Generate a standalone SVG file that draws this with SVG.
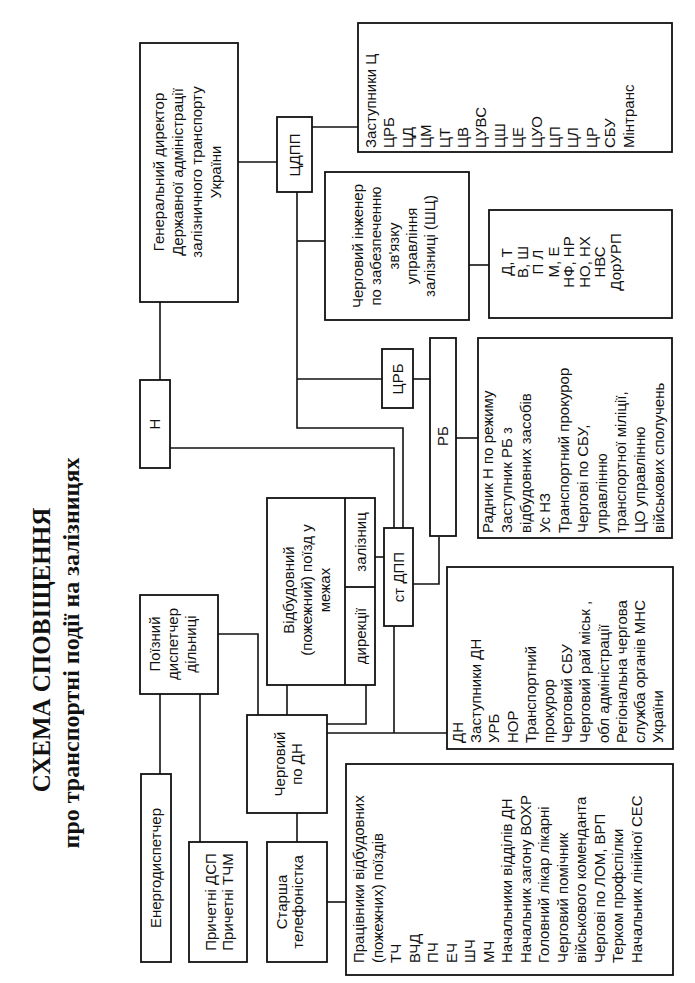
<svg xmlns="http://www.w3.org/2000/svg" width="695" height="983" viewBox="0 0 695 983">
<style>
.box{fill:none;stroke:#111;stroke-width:1.8}
.ln{fill:none;stroke:#111;stroke-width:1.6}
.t{font-family:"Liberation Sans",Arial,sans-serif;font-size:15px;fill:#111}
.m{text-anchor:middle}
.s{text-anchor:start}
.ttl{font-family:"Liberation Serif","Times New Roman",serif;font-weight:bold;fill:#111;text-anchor:middle}
</style>
<rect width="695" height="983" fill="#fff"/>
<g id="title" transform="translate(50,650) rotate(-90)">
<text class="ttl"><tspan x="0" y="0" font-size="25">СХЕМА СПОВІЩЕННЯ</tspan><tspan x="-3" y="29" font-size="24">про транспортні події на залізницях</tspan></text>
</g>
<g id="connectors">
<polyline class="ln" points="160,302 160,380"/>
<polyline class="ln" points="238,162 277,162"/>
<polyline class="ln" points="312,127 358,127"/>
<polyline class="ln" points="297,192 297,428 403,428 403,528"/>
<polyline class="ln" points="297,241 325,241"/>
<polyline class="ln" points="297,379 382,379"/>
<polyline class="ln" points="413,379 430,379"/>
<polyline class="ln" points="469,265 489,265"/>
<polyline class="ln" points="456,438 478,438"/>
<polyline class="ln" points="170,448 394,448 394,528"/>
<polyline class="ln" points="413,584 439,584 439,537"/>
<polyline class="ln" points="375,557 384,557"/>
<polyline class="ln" points="394,626 394,733"/>
<polyline class="ln" points="327,733 447,733"/>
<polyline class="ln" points="287,685 287,715"/>
<polyline class="ln" points="366,685 366,724 327,724"/>
<polyline class="ln" points="218,634 258,634 258,715"/>
<polyline class="ln" points="160,694 160,774"/>
<polyline class="ln" points="200,694 200,842"/>
<polyline class="ln" points="297,813 297,842"/>
<polyline class="ln" points="327,902 346,902"/>
</g>
<g id="gendir">
<rect class="box" x="140" y="43" width="98" height="259"/>
<g transform="translate(164,172) rotate(-90)"><text class="t m"><tspan x="0" y="0">Генеральний директор</tspan><tspan x="0" y="19">Державної адміністрації</tspan><tspan x="0" y="38">залізничного транспорту</tspan><tspan x="0" y="57">України</tspan></text></g>
</g>
<g id="n">
<rect class="box" x="140" y="380" width="30" height="88"/>
<g transform="translate(160,424) rotate(-90)"><text class="t m" x="0" y="0">Н</text></g>
</g>
<g id="cdpp">
<rect class="box" x="277" y="117" width="35" height="75"/>
<g transform="translate(300,155) rotate(-90)"><text class="t m" x="0" y="0">ЦДПП</text></g>
</g>
<g id="zastc">
<rect class="box" x="358" y="23" width="314" height="129"/>
<g transform="translate(376,148) rotate(-90)"><text class="t s"><tspan x="0" y="0">Заступники Ц</tspan><tspan x="0" y="18.4">ЦРБ</tspan><tspan x="0" y="36.8">ЦД</tspan><tspan x="0" y="55.2">ЦМ</tspan><tspan x="0" y="73.6">ЦТ</tspan><tspan x="0" y="92">ЦВ</tspan><tspan x="0" y="110.4">ЦУВС</tspan><tspan x="0" y="128.8">ЦШ</tspan><tspan x="0" y="147.2">ЦЕ</tspan><tspan x="0" y="165.6">ЦУО</tspan><tspan x="0" y="184">ЦП</tspan><tspan x="0" y="202.4">ЦЛ</tspan><tspan x="0" y="220.8">ЦР</tspan><tspan x="0" y="239.2">СБУ</tspan><tspan x="0" y="257.6">Мінтранс</tspan></text></g>
</g>
<g id="shc">
<rect class="box" x="325" y="172" width="144" height="148"/>
<g transform="translate(363,246) rotate(-90)"><text class="t m"><tspan x="0" y="0">Черговий інженер</tspan><tspan x="0" y="18">по забезпеченню</tspan><tspan x="0" y="36">зв'язку</tspan><tspan x="0" y="54">управління</tspan><tspan x="0" y="72">залізниці (ШЦ)</tspan></text></g>
</g>
<g id="dt">
<rect class="box" x="489" y="210" width="183" height="108"/>
<g transform="translate(512,262) rotate(-90)"><text class="t m"><tspan x="0" y="0">Д, Т</tspan><tspan x="0" y="15.5">В, Ш</tspan><tspan x="0" y="31">П Л</tspan><tspan x="0" y="46.5">М, Е</tspan><tspan x="0" y="62">НФ, НР</tspan><tspan x="0" y="77.5">НО, НХ</tspan><tspan x="0" y="93">НВС</tspan><tspan x="0" y="108.5">ДорУРП</tspan></text></g>
</g>
<g id="crb">
<rect class="box" x="382" y="349" width="31" height="59"/>
<g transform="translate(403,379) rotate(-90)"><text class="t m" x="0" y="0">ЦРБ</text></g>
</g>
<g id="rb">
<rect class="box" x="430" y="338" width="26" height="198"/>
<g transform="translate(448,436) rotate(-90)"><text class="t m" x="0" y="0">РБ</text></g>
</g>
<g id="radnyk">
<rect class="box" x="478" y="338" width="194" height="200"/>
<g transform="translate(493,533) rotate(-90)"><text class="t s"><tspan x="0" y="0">Радник Н по режиму</tspan><tspan x="0" y="19">Заступник РБ з</tspan><tspan x="0" y="38">відбудовних засобів</tspan><tspan x="0" y="57">Ус НЗ</tspan><tspan x="0" y="76">Транспортний прокурор</tspan><tspan x="0" y="95">Чергові по СБУ,</tspan><tspan x="0" y="114">управлінню</tspan><tspan x="0" y="133">транспортної міліції,</tspan><tspan x="0" y="152">ЦО управлінню</tspan><tspan x="0" y="171">військових сполучень</tspan></text></g>
</g>
<g id="stdpp">
<rect class="box" x="384" y="528" width="29" height="98"/>
<g transform="translate(404,577) rotate(-90)"><text class="t m" x="0" y="0">ст ДПП</text></g>
</g>
<g id="vidbud">
<rect class="box" x="267" y="498" width="108" height="187"/>
<line class="box" x1="345" y1="498" x2="345" y2="685"/>
<line class="box" x1="345" y1="587" x2="375" y2="587"/>
<g transform="translate(294,590) rotate(-90)"><text class="t m"><tspan x="0" y="0">Відбудовний</tspan><tspan x="0" y="18">(пожежний) поїзд у</tspan><tspan x="0" y="36">межах</tspan></text></g>
<g transform="translate(366,542) rotate(-90)"><text class="t m" x="0" y="0">залізниц</text></g>
<g transform="translate(366,636) rotate(-90)"><text class="t m" x="0" y="0">дирекції</text></g>
</g>
<g id="poizd">
<rect class="box" x="140" y="595" width="78" height="99"/>
<g transform="translate(160,644) rotate(-90)"><text class="t m"><tspan x="0" y="0">Поїзний</tspan><tspan x="0" y="18">диспетчер</tspan><tspan x="0" y="36">дільниці</tspan></text></g>
</g>
<g id="energo">
<rect class="box" x="141" y="774" width="30" height="188"/>
<g transform="translate(161,868) rotate(-90)"><text class="t m" x="0" y="0">Енергодиспетчер</text></g>
</g>
<g id="prychetni">
<rect class="box" x="189" y="842" width="58" height="120"/>
<g transform="translate(216,902) rotate(-90)"><text class="t m"><tspan x="0" y="0">Причетні ДСП</tspan><tspan x="0" y="17">Причетні ТЧМ</tspan></text></g>
</g>
<g id="chergdn">
<rect class="box" x="247" y="715" width="80" height="98"/>
<g transform="translate(285,764) rotate(-90)"><text class="t m"><tspan x="0" y="0">Черговий</tspan><tspan x="0" y="17">по ДН</tspan></text></g>
</g>
<g id="starsha">
<rect class="box" x="267" y="842" width="60" height="120"/>
<g transform="translate(287,902) rotate(-90)"><text class="t m"><tspan x="0" y="0">Старша</tspan><tspan x="0" y="16">телефоністка</tspan></text></g>
</g>
<g id="dn">
<rect class="box" x="447" y="567" width="226" height="182"/>
<g transform="translate(463,743) rotate(-90)"><text class="t s"><tspan x="0" y="0">ДН</tspan><tspan x="0" y="18.2">Заступники ДН</tspan><tspan x="0" y="36.4">УРБ</tspan><tspan x="0" y="54.6">НОР</tspan><tspan x="0" y="72.8">Транспортний</tspan><tspan x="0" y="91">прокурор</tspan><tspan x="0" y="109.2">Черговий СБУ</tspan><tspan x="0" y="127.4">Черговий рай міськ ,</tspan><tspan x="0" y="145.6">обл адміністрації</tspan><tspan x="0" y="163.8">Регіональна чергова</tspan><tspan x="0" y="182">служба органів МНС</tspan><tspan x="0" y="200.2">України</tspan></text></g>
</g>
<g id="pratsivnyky">
<rect class="box" x="346" y="764" width="327" height="211"/>
<g transform="translate(364,963) rotate(-90)"><text class="t s"><tspan x="0" y="0">Працівники відбудовних</tspan><tspan x="0" y="18.5">(пожежних) поїздів</tspan><tspan x="0" y="37">ТЧ</tspan><tspan x="0" y="55.5">ВЧД</tspan><tspan x="0" y="74">ПЧ</tspan><tspan x="0" y="92.5">ЕЧ</tspan><tspan x="0" y="111">ШЧ</tspan><tspan x="0" y="129.5">МЧ</tspan><tspan x="0" y="148">Начальники відділів ДН</tspan><tspan x="0" y="166.5">Начальник загону ВОХР</tspan><tspan x="0" y="185">Головний лікар лікарні</tspan><tspan x="0" y="203.5">Черговий помічник</tspan><tspan x="0" y="222">військового коменданта</tspan><tspan x="0" y="240.5">Чергові по ЛОМ, ВРП</tspan><tspan x="0" y="259">Терком профспілки</tspan><tspan x="0" y="277.5">Начальник лінійної СЕС</tspan></text></g>
</g>
</svg>
